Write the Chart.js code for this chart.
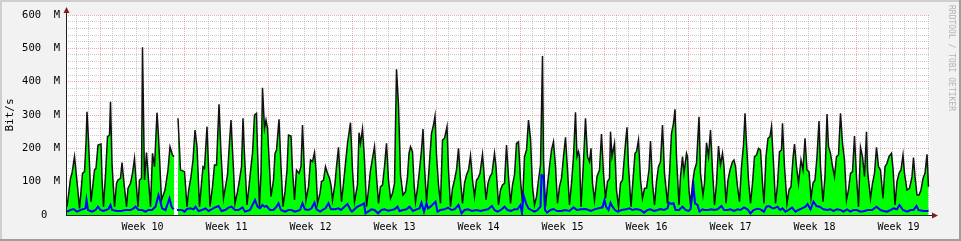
<!DOCTYPE html>
<html>
<head>
<meta charset="utf-8">
<script src="https://cdn.jsdelivr.net/npm/chart.js@4.4.1/dist/chart.umd.min.js"></script>
<style>
  html, body { margin: 0; padding: 0; background: #f2f2f2; }
  canvas { display: block; }
</style>
</head>
<body>
<canvas id="traffic" width="961" height="241"></canvas>
<script>
// hours since the start of week 10, Mbit/s
const inbound = [
  [-67,25],[-64,60],[-60,110],[-57,125],[-52,175],[-49,130],[-46,85],[-42,20],
  [-39,70],[-36,125],[-32,130],[-29,215],[-27,310],[-24,225],[-19,40],
  [-16,80],[-12,135],[-9,140],[-5,210],[1,213],[3,110],[6,25],
  [10,120],[14,235],[18,240],[20,340],[23,155],[28,25],
  [32,95],[35,105],[40,110],[43,157],[46,110],[52,25],
  [55,80],[60,95],[64,125],[68,170],[71,105],[75,25],
  [78,105],[82,110],[84,503],[88,105],[92,187],[100,25],[104,185],[108,145],[113,307],[116,235],
  [122,45],[129,75],[135,135],[139,205],[144,180],[147,175],[150,null],
  [155,290],[160,135],[168,130],[173,25],[176,70],[181,115],[185,165],[189,255],[193,205],[198,25],
  [202,95],[205,145],[208,140],[213,265],[216,145],[219,25],[224,85],[228,150],[232,150],[237,332],
  [241,185],[246,50],[250,85],[254,120],[257,195],[261,285],[266,135],[269,35],[274,70],[278,105],
  [282,145],[285,290],[288,180],[293,30],[297,85],[301,145],[304,185],[308,300],[312,305],[314,195],
  [318,25],[321,125],[324,382],[328,260],[331,285],[334,260],[341,55],[346,105],[349,185],[352,195],
  [357,287],[361,145],[365,25],[369,70],[373,135],[376,240],[381,237],[384,135],[388,45],[392,135],
  [397,125],[401,145],[404,270],[408,125],[411,45],[416,85],[420,165],[424,160],[428,187],[431,135],
  [434,35],[439,65],[442,100],[446,105],[450,145],[454,125],[458,110],[461,90],[464,45],[469,95],
  [472,145],[476,203],[479,115],[482,40],[486,95],[490,155],[494,215],[500,277],[504,135],[508,40],
  [514,90],[517,247],[520,215],[524,258],[528,165],[532,25],[536,75],[540,135],[544,170],[548,205],
  [552,115],[556,35],[560,85],[564,90],[568,145],[572,215],[576,105],[580,50],[584,65],[588,95],
  [592,437],[596,330],[600,120],[605,60],[610,70],[614,115],[617,185],[620,205],[624,190],[627,95],
  [630,40],[634,80],[638,135],[642,195],[645,258],[648,145],[652,40],[656,115],[662,245],[666,270],
  [669,297],[672,180],[676,90],[680,35],[684,225],[688,230],[693,265],[696,135],[700,25],[704,80],
  [708,105],[712,135],[716,200],[720,105],[724,35],[728,95],[732,120],[736,135],[740,178],[744,105],
  [748,55],[752,105],[755,110],[759,125],[764,182],[767,125],[771,45],[775,95],[779,115],[783,125],
  [788,185],[791,145],[796,30],[800,75],[804,90],[808,95],[812,210],[816,115],[820,35],[824,90],
  [828,120],[832,215],[836,220],[840,105],[844,35],[848,175],[852,195],[856,285],[860,230],[864,85],
  [868,30],[872,55],[876,105],[880,150],[884,477],[886,165],[890,25],[894,90],[898,145],[902,195],
  [906,220],[910,145],[914,35],[918,85],[922,110],[926,175],[930,233],[934,135],[938,30],[942,95],
  [946,175],[950,308],[953,175],[956,190],[958,175],[961,25],[966,160],[970,290],[974,175],[978,160],
  [981,200],[984,95],[988,45],[993,115],[998,135],[1002,243],[1006,125],[1010,50],[1014,100],[1018,110],
  [1020,250],[1023,175],[1028,215],[1032,75],[1036,25],[1040,95],[1044,105],[1050,215],[1053,263],[1056,145],
  [1061,25],[1064,85],[1069,185],[1072,190],[1076,225],[1080,105],[1084,50],[1088,80],[1092,80],[1097,135],
  [1100,222],[1104,95],[1108,30],[1112,100],[1116,145],[1120,160],[1124,270],[1128,125],[1134,35],[1138,125],
  [1142,245],[1146,275],[1149,317],[1152,175],[1157,30],[1160,115],[1164,175],[1167,125],[1172,185],[1174,175],
  [1177,75],[1180,30],[1184,95],[1188,135],[1192,155],[1197,295],[1200,125],[1205,60],[1208,95],[1212,217],
  [1216,175],[1220,255],[1224,135],[1228,30],[1232,95],[1236,207],[1240,150],[1244,185],[1247,145],[1251,35],
  [1255,105],[1259,135],[1264,160],[1267,165],[1270,145],[1274,85],[1278,40],[1282,145],[1286,210],[1289,305],
  [1292,215],[1296,105],[1300,35],[1304,95],[1308,175],[1312,180],[1316,200],[1320,195],[1324,95],[1327,35],
  [1331,175],[1335,230],[1339,235],[1342,265],[1346,155],[1350,35],[1354,90],[1358,190],[1362,195],[1364,275],
  [1368,145],[1373,35],[1377,75],[1381,85],[1385,170],[1388,213],[1392,145],[1396,95],[1401,165],[1405,135],
  [1409,230],[1413,135],[1417,130],[1421,50],[1425,95],[1429,105],[1433,175],[1437,282],[1440,145],[1445,40],
  [1449,115],[1453,303],[1456,205],[1460,185],[1463,155],[1468,115],[1472,175],[1476,180],[1480,305],[1484,215],
  [1488,165],[1492,45],[1496,75],[1500,125],[1504,130],[1508,237],[1512,115],[1516,25],[1520,203],[1524,175],
  [1528,115],[1532,250],[1534,135],[1540,50],[1544,95],[1548,125],[1552,203],[1556,145],[1560,135],[1565,50],
  [1569,145],[1573,155],[1577,175],[1582,185],[1585,140],[1589,30],[1593,100],[1597,125],[1601,135],[1605,180],
  [1608,125],[1613,75],[1618,80],[1623,115],[1626,172],[1629,115],[1633,60],[1637,60],[1641,75],[1645,110],
  [1649,125],[1653,182],[1656,85]
]

const outbound = [
  [-67,10],[-60,15],[-54,18],[-47,10],[-40,15],[-36,17],[-30,20],[-28,45],[-25,15],[-17,10],
  [-10,15],[-5,25],[0,15],[6,12],[16,18],[20,30],[23,15],[33,12],[43,13],[50,15],
  [60,15],[66,20],[70,25],[76,15],[83,15],[90,10],[96,15],[103,15],[110,25],[116,60],
  [120,40],[123,20],[130,15],[138,50],[142,25],[146,17],[150,null],
  [153,15],[163,15],[168,10],[173,18],[180,20],[186,17],[190,25],[196,12],[203,15],[210,20],
  [216,12],[222,17],[228,22],[236,27],[242,12],[249,15],[257,23],[262,25],[269,15],[276,15],
  [284,23],[289,10],[299,15],[309,45],[314,25],[319,20],[324,30],[328,25],[332,27],[339,15],
  [346,15],[352,25],[356,35],[361,15],[369,10],[376,15],[382,15],[389,10],[399,15],[404,35],
  [409,17],[416,15],[422,20],[428,37],[432,17],[439,10],[446,17],[450,20],[456,35],[461,17],
  [469,17],[476,20],[481,15],[488,25],[494,33],[500,15],[503,10],[508,17],[514,25],[521,30],
  [527,35],[530,5],[535,10],[542,17],[548,15],[555,5],[562,15],[568,17],[575,13],[582,15],
  [588,17],[594,25],[598,12],[605,15],[612,17],[618,25],[625,12],[632,17],[638,20],[642,37],
  [647,10],[652,35],[655,20],[660,25],[670,40],[674,10],[680,15],[688,17],[695,22],[702,15],
  [708,17],[716,30],[722,5],[728,15],[735,17],[743,12],[752,15],[760,12],[768,15],[775,17],
  [783,27],[788,15],[794,10],[801,15],[808,25],[814,15],[821,12],[828,17],[834,17],[840,30],
  [843,5],[846,60],[851,35],[856,20],[861,15],[868,10],[874,15],[880,25],[882,120],[886,117],
  [889,15],[893,7],[900,15],[906,18],[913,12],[921,12],[929,15],[938,12],[946,23],[953,15],
  [961,17],[970,18],[976,15],[981,12],[988,17],[996,20],[1004,23],[1008,45],[1011,25],[1016,15],
  [1020,37],[1024,25],[1029,15],[1034,10],[1042,15],[1051,17],[1058,20],[1064,15],[1071,18],[1080,15],
  [1087,7],[1094,15],[1100,17],[1107,12],[1114,15],[1120,18],[1127,15],[1134,20],[1137,37],[1142,33],
  [1146,35],[1150,15],[1157,15],[1164,25],[1170,15],[1176,12],[1180,17],[1186,87],[1189,35],[1194,30],
  [1198,10],[1204,17],[1208,15],[1215,15],[1222,17],[1227,15],[1234,17],[1242,27],[1247,15],[1254,15],
  [1260,17],[1267,12],[1274,17],[1280,15],[1287,23],[1294,17],[1300,5],[1306,15],[1314,19],[1320,17],
  [1327,10],[1332,25],[1337,27],[1344,20],[1347,20],[1354,25],[1359,15],[1364,20],[1370,10],[1376,15],
  [1383,22],[1390,10],[1396,15],[1403,20],[1410,25],[1414,33],[1420,17],[1426,40],[1432,27],[1438,25],
  [1446,17],[1453,15],[1460,17],[1466,12],[1473,17],[1480,15],[1486,10],[1493,17],[1500,10],[1506,15],
  [1513,15],[1520,10],[1528,12],[1534,15],[1543,15],[1552,25],[1560,15],[1566,12],[1573,10],[1580,15],
  [1586,20],[1593,17],[1598,30],[1605,15],[1613,10],[1620,15],[1626,15],[1632,27],[1636,15],[1646,12],
  [1656,12]
]

const weekLabels = ['Week 10','Week 11','Week 12','Week 13','Week 14','Week 15','Week 16','Week 17','Week 18','Week 19']
const yTickLabels = {0:'0  ', 100:'100  M', 200:'200  M', 300:'300  M', 400:'400  M', 500:'500  M', 600:'600  M'}

const hourMin = -69
const hourMax = 1659
const monoFont = 'DejaVu Sans Mono'
const minorGrid = 'rgba(150,150,150,0.5)'
const majorGrid = 'rgba(225,100,100,0.55)'

let rrdLook = {
    id: 'rrdLook',
    beforeDraw(chart){
        let {ctx, width, height, chartArea: a} = chart
        ctx.save()
        ctx.fillStyle = '#f2f2f2'
        ctx.fillRect(0, 0, width, height)
        ctx.fillStyle = '#cfcfcf'
        ctx.fillRect(0, 0, width, 2)
        ctx.fillRect(0, 0, 2, height)
        ctx.fillStyle = '#9e9e9e'
        ctx.fillRect(0, height - 2, width, 2)
        ctx.fillRect(width - 2, 0, 2, height)
        ctx.fillStyle = '#ffffff'
        ctx.fillRect(a.left, a.top, a.right - a.left, a.bottom - a.top)
        ctx.restore()
    },
    afterDraw(chart){
        let {ctx, chartArea: a} = chart
        ctx.save()
        // axes
        ctx.strokeStyle = '#1f1f1f'
        ctx.lineWidth = 1
        ctx.beginPath()
        ctx.moveTo(a.left + 0.5, a.bottom)
        ctx.lineTo(a.left + 0.5, a.top - 5)
        ctx.moveTo(a.left, a.bottom + 0.5)
        ctx.lineTo(a.right + 4, a.bottom + 0.5)
        ctx.stroke()
        // arrows
        ctx.fillStyle = '#7f1f1f'
        ctx.beginPath()
        ctx.moveTo(a.left + 0.5, a.top - 8)
        ctx.lineTo(a.left + 3.5, a.top - 2)
        ctx.lineTo(a.left - 2.5, a.top - 2)
        ctx.closePath()
        ctx.fill()
        ctx.beginPath()
        ctx.moveTo(a.right + 8, a.bottom + 0.5)
        ctx.lineTo(a.right + 2, a.bottom + 3.5)
        ctx.lineTo(a.right + 2, a.bottom - 2.5)
        ctx.closePath()
        ctx.fill()
        // watermark
        ctx.translate(951, 5)
        ctx.rotate(Math.PI / 2)
        ctx.font = '8px "' + monoFont + '"'
        ctx.fillStyle = '#b4b4b4'
        ctx.textBaseline = 'middle'
        ctx.textAlign = 'left'
        ctx.fillText('RRDTOOL / TOBI OETIKER', 0, 0)
        ctx.restore()
    }
}

new Chart(document.getElementById('traffic'), {
    type: 'line',
    data: {
        datasets: [{
            label: 'out',
            data: outbound.map(p => ({x: p[0], y: p[1]})),
            borderColor: '#0000ff',
            borderWidth: 2,
            pointRadius: 0,
            fill: false,
            spanGaps: false
        },
        {
            label: 'in',
            data: inbound.map(p => ({x: p[0], y: p[1]})),
            borderColor: '#111111',
            backgroundColor: '#00ff00',
            borderWidth: 1.5,
            pointRadius: 0,
            fill: 'origin',
            spanGaps: false
        }]
    },
    options: {
        responsive: false,
        animation: false,
        devicePixelRatio: 1,
        layout: { padding: { left: 0, right: 31, top: 15, bottom: 0 } },
        plugins: {
            legend: { display: false },
            tooltip: { enabled: false }
        },
        elements: { line: { tension: 0 } },
        scales: {
            x: {
                type: 'linear',
                min: hourMin,
                max: hourMax,
                afterFit: scale => { scale.height = 26 },
                afterBuildTicks: scale => {
                    let ticks = []
                    for (let h = -60; h <= hourMax; h += 12) ticks.push({value: h})
                    scale.ticks = ticks
                },
                border: { display: false, dash: [1, 1] },
                grid: {
                    drawTicks: false,
                    color: c => {
                        let v = c.tick ? c.tick.value : 1
                        if (v % 168 === 0) return majorGrid
                        if (v % 24 === 0) return minorGrid
                        return 'rgba(0,0,0,0)'
                    }
                },
                ticks: {
                    autoSkip: false,
                    maxRotation: 0,
                    padding: 6,
                    color: '#000',
                    font: { family: monoFont, size: 10 },
                    callback: v => {
                        if ((v - 84) % 168 === 0) return weekLabels[(v - 84) / 168] || ''
                        return ''
                    }
                }
            },
            y: {
                min: 0,
                max: 600,
                afterFit: scale => { scale.width = 66 },
                border: { display: false, dash: [1, 1] },
                grid: {
                    drawTicks: false,
                    color: c => (c.tick && c.tick.value % 100 === 0) ? majorGrid : minorGrid
                },
                ticks: {
                    stepSize: 20,
                    autoSkip: false,
                    padding: 6,
                    color: '#000',
                    font: { family: monoFont, size: 10.5 },
                    callback: v => yTickLabels[v] !== undefined ? yTickLabels[v] : ''
                },
                title: {
                    display: true,
                    text: 'Bit/s',
                    color: '#000',
                    font: { family: monoFont, size: 11 },
                    padding: { top: 4, bottom: 0 }
                }
            }
        }
    },
    plugins: [rrdLook]
})
</script>
</body>
</html>
